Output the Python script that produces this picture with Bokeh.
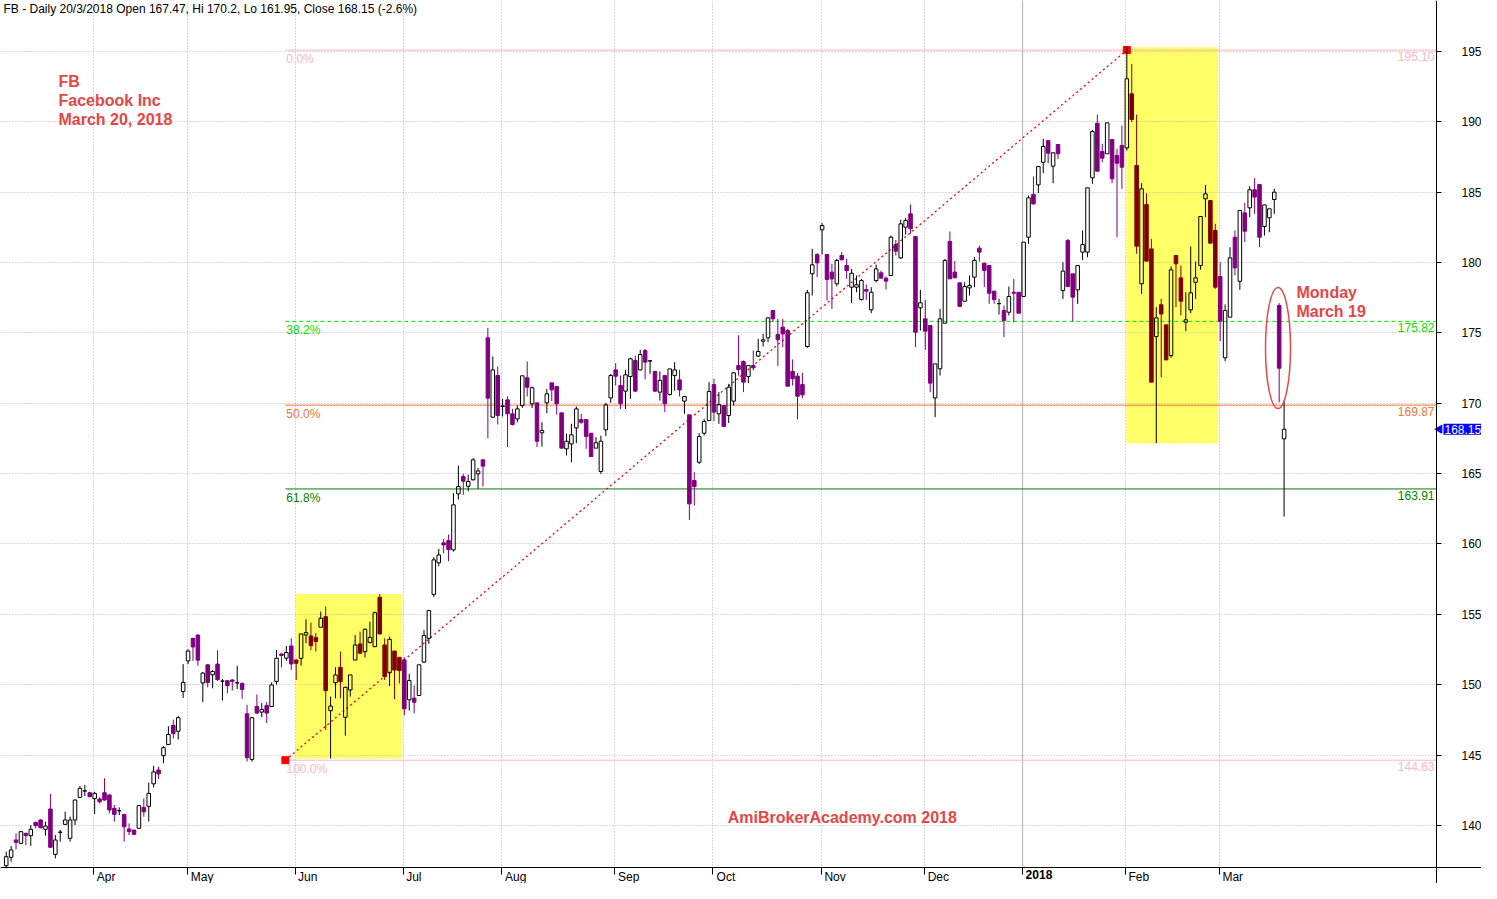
import json
import math
import pandas as pd
from bokeh.plotting import figure
from bokeh.models import (Range1d, FixedTicker, Label, Span, ColumnDataSource, Grid,
                          CustomJSTickFormatter, LinearAxis)
from bokeh.core.properties import value
from bokeh.embed import file_html
from bokeh.resources import INLINE

# ---------------- data (FB daily, 8 Mar 2017 .. 20 Mar 2018) ----------------
open_prices = [
    137.13, 137.73, 138.96, 138.72, 139.43, 139.27, 140.21, 140.38, 139.72, 141.16,
    137.94, 139.50, 140.07, 139.08, 140.38, 141.99, 142.44, 142.32, 141.90, 141.87,
    142.32, 142.16, 141.21, 141.04, 140.78, 139.74, 139.67, 139.79, 141.27, 141.35,
    142.95, 143.94, 144.95, 145.75, 147.11, 146.69, 149.51, 151.69, 153.29, 153.52,
    150.12, 151.41, 150.70, 151.46, 150.25, 150.28, 150.33, 150.12, 150.09, 147.93,
    144.69, 148.45, 148.05, 148.52, 148.45, 150.23, 152.18, 151.88, 152.75, 151.75,
    151.87, 153.53, 153.46, 153.34, 154.08, 154.83, 148.15, 150.14, 151.23, 147.68,
    149.62, 151.75, 152.89, 152.35, 152.99, 152.70, 156.21, 152.82, 150.85, 152.39,
    151.94, 151.76, 148.92, 149.04, 149.23, 151.60, 153.30, 156.41, 158.66, 160.08,
    160.24, 159.58, 163.56, 164.79, 164.10, 164.56, 164.98, 165.98, 174.65, 169.01,
    171.97, 169.77, 170.24, 169.25, 168.89, 169.84, 171.81, 169.96, 170.03, 167.90,
    170.03, 171.45, 171.19, 169.32, 166.76, 167.11, 168.25, 168.84, 168.84, 167.87,
    166.81, 165.15, 168.11, 170.38, 172.37, 171.26, 170.86, 171.90, 173.04, 172.37,
    173.75, 173.00, 172.26, 170.79, 171.97, 170.62, 171.97, 171.66, 170.15, 169.18,
    164.51, 165.81, 167.87, 168.77, 171.33, 169.25, 169.84, 169.13, 170.15, 172.68,
    172.97, 171.90, 172.68, 173.35, 174.41, 174.65, 176.59, 174.89, 175.41, 175.17,
    172.26, 171.93, 171.33, 174.03, 179.20, 180.57, 182.33, 180.57, 179.32, 178.49,
    180.50, 179.79, 178.25, 178.25, 177.37, 178.08, 176.64, 178.72, 179.27, 178.89,
    179.08, 181.28, 180.33, 182.51, 183.46, 181.85, 176.78, 176.00, 175.53, 170.38,
    172.45, 175.69, 181.50, 179.32, 178.56, 177.25, 178.20, 178.96, 181.02, 179.96,
    179.79, 177.97, 177.07, 176.59, 176.47, 177.89, 177.89, 177.59, 181.80, 184.83,
    185.52, 187.13, 188.67, 186.85, 188.39, 178.01, 181.57, 179.20, 178.06, 180.74,
    180.74, 186.02, 189.90, 187.89, 187.73, 188.74, 187.61, 188.32, 188.15, 191.99,
    186.90, 178.49, 184.12, 180.97, 174.74, 177.00, 175.57, 173.39, 180.50, 178.91,
    175.76, 176.64, 178.60, 179.79, 184.53, 184.41, 182.28, 179.01, 173.23, 176.12,
    181.80, 178.67, 183.53, 183.89, 185.17, 185.55, 182.56, 183.18, 184.48, 176.95,
    167.47,
]
high_prices = [
    138.13, 138.53, 139.43, 139.60, 139.48, 140.02, 140.26, 140.43, 140.26, 142.23,
    139.31, 139.67, 140.97, 140.62, 141.85, 142.80, 142.87, 142.39, 142.39, 141.99,
    143.34, 142.20, 141.45, 141.28, 140.81, 140.14, 139.67, 141.45, 141.91, 143.04,
    144.23, 144.18, 145.63, 147.04, 147.51, 147.78, 151.46, 152.51, 153.33, 153.60,
    150.90, 151.46, 151.03, 152.44, 150.40, 150.33, 150.40, 151.34, 150.16, 148.57,
    147.70, 149.30, 148.69, 148.76, 150.16, 152.46, 152.23, 152.75, 153.29, 151.80,
    153.62, 154.64, 154.41, 153.65, 155.19, 155.55, 149.15, 151.23, 152.35, 149.86,
    150.69, 153.53, 153.77, 154.00, 154.48, 155.19, 156.45, 153.29, 153.41, 152.39,
    151.94, 151.95, 150.77, 149.94, 151.41, 153.89, 155.32, 159.06, 159.65, 160.36,
    160.67, 163.61, 165.57, 164.98, 164.93, 166.10, 165.41, 165.98, 175.36, 173.32,
    172.61, 170.31, 170.48, 169.60, 169.84, 171.95, 172.97, 171.19, 170.03, 168.65,
    171.02, 171.45, 171.19, 169.32, 167.83, 168.54, 169.77, 169.25, 168.84, 167.87,
    167.59, 167.70, 170.03, 172.09, 172.85, 171.97, 172.37, 173.23, 173.39, 173.80,
    173.87, 173.05, 172.26, 172.26, 171.97, 172.44, 172.92, 172.37, 170.48, 169.18,
    165.10, 167.87, 168.89, 171.50, 171.74, 170.79, 169.84, 171.38, 172.21, 174.82,
    173.04, 172.68, 173.75, 174.58, 174.93, 176.12, 176.64, 176.00, 176.00, 175.29,
    173.11, 172.16, 172.16, 178.06, 180.98, 180.67, 182.80, 180.57, 179.91, 180.27,
    180.74, 180.27, 179.55, 179.08, 178.84, 178.44, 178.25, 179.86, 179.43, 179.01,
    181.92, 181.61, 183.04, 183.18, 184.13, 181.85, 178.06, 177.35, 175.53, 172.80,
    176.71, 180.26, 182.21, 180.10, 178.56, 178.60, 179.08, 180.38, 181.21, 179.96,
    179.79, 177.97, 177.42, 176.95, 178.30, 178.84, 177.89, 181.45, 184.76, 186.11,
    186.82, 188.79, 188.67, 187.80, 188.39, 180.02, 181.68, 179.20, 179.79, 182.28,
    185.31, 189.43, 190.52, 188.44, 189.93, 188.74, 188.08, 189.74, 195.31, 194.12,
    190.52, 185.64, 184.93, 181.68, 176.83, 177.42, 175.57, 179.72, 180.50, 179.79,
    177.89, 181.14, 180.07, 183.27, 185.52, 184.41, 182.75, 180.03, 177.02, 181.09,
    182.28, 183.70, 184.24, 185.43, 186.00, 185.55, 184.10, 183.82, 185.24, 177.11,
    170.20,
]
low_prices = [
    136.94, 137.42, 138.29, 138.67, 138.60, 138.55, 139.79, 139.79, 139.27, 138.41,
    137.65, 138.84, 140.02, 138.84, 140.02, 141.94, 142.09, 141.99, 140.81, 141.56,
    141.75, 140.85, 140.26, 140.73, 138.84, 139.31, 139.31, 139.79, 140.61, 140.27,
    142.69, 143.29, 144.41, 145.70, 146.17, 146.10, 149.06, 151.46, 151.69, 151.34,
    148.76, 149.81, 149.74, 150.28, 148.87, 149.39, 149.58, 149.69, 148.99, 144.53,
    144.53, 147.93, 147.70, 147.28, 148.40, 150.00, 151.22, 151.69, 151.04, 150.33,
    151.35, 152.94, 152.46, 152.35, 154.08, 146.78, 144.76, 149.03, 149.03, 146.37,
    149.15, 151.75, 152.23, 151.94, 152.94, 152.70, 153.60, 150.33, 149.90, 148.96,
    150.09, 147.81, 148.16, 147.97, 149.23, 151.53, 152.90, 156.22, 158.42, 159.34,
    158.77, 159.46, 163.16, 163.49, 163.75, 164.51, 163.92, 164.08, 167.52, 168.96,
    168.49, 169.06, 166.88, 168.42, 168.65, 169.67, 170.48, 169.67, 166.88, 166.92,
    169.29, 170.15, 169.20, 166.76, 166.29, 165.81, 167.16, 168.54, 166.76, 166.21,
    166.81, 164.98, 167.66, 170.03, 171.26, 169.60, 169.60, 170.31, 170.79, 172.33,
    171.69, 172.09, 170.80, 170.19, 169.37, 170.55, 170.90, 170.48, 169.25, 161.71,
    162.73, 165.69, 167.71, 168.77, 168.73, 168.54, 168.35, 168.59, 169.84, 171.97,
    170.79, 171.43, 172.33, 173.28, 174.03, 174.34, 175.76, 172.64, 173.99, 171.21,
    171.26, 168.85, 170.36, 173.94, 177.66, 178.96, 180.57, 177.30, 176.71, 178.30,
    180.19, 178.84, 177.11, 177.89, 177.30, 177.35, 176.40, 178.60, 178.89, 178.08,
    179.03, 180.50, 180.26, 181.99, 182.04, 173.99, 175.17, 173.80, 170.79, 169.01,
    171.97, 175.69, 178.84, 178.91, 176.88, 177.25, 177.66, 178.25, 180.07, 178.25,
    177.07, 177.07, 176.31, 174.70, 176.24, 175.76, 176.40, 177.59, 181.33, 184.12,
    184.93, 186.35, 187.06, 185.64, 187.37, 177.42, 178.25, 175.81, 177.06, 180.19,
    180.38, 185.59, 186.49, 187.13, 187.73, 185.64, 181.80, 185.24, 187.96, 189.98,
    180.62, 177.77, 180.10, 171.50, 167.16, 171.85, 173.08, 173.23, 176.83, 176.24,
    175.12, 176.40, 177.42, 179.50, 183.22, 181.38, 178.13, 174.41, 172.99, 176.12,
    179.08, 178.06, 181.45, 183.22, 183.46, 181.09, 181.92, 182.16, 183.46, 170.07,
    161.95,
]
close_prices = [
    137.77, 138.25, 138.79, 139.55, 139.27, 139.72, 139.98, 139.83, 139.95, 138.44,
    138.96, 139.52, 140.38, 140.38, 141.80, 142.63, 142.45, 142.04, 142.27, 141.68,
    141.80, 141.09, 140.78, 141.04, 139.90, 139.55, 139.36, 141.40, 140.96, 142.27,
    143.80, 143.66, 145.52, 146.46, 146.53, 147.65, 150.16, 152.39, 152.68, 151.74,
    150.82, 150.16, 150.94, 150.35, 150.25, 149.93, 150.23, 150.14, 149.65, 144.81,
    147.65, 147.98, 148.24, 147.98, 149.98, 151.88, 152.07, 152.28, 151.47, 151.52,
    153.60, 153.70, 152.77, 153.06, 154.72, 149.57, 148.48, 150.69, 150.21, 149.81,
    150.69, 152.82, 152.23, 153.93, 153.36, 155.12, 153.60, 150.57, 153.22, 151.04,
    151.00, 148.28, 150.29, 148.75, 151.41, 153.49, 155.27, 158.87, 159.22, 159.93,
    159.60, 162.78, 164.08, 164.46, 164.44, 165.98, 165.19, 165.53, 170.36, 172.37,
    169.13, 169.80, 169.25, 168.49, 169.60, 171.95, 171.14, 171.10, 167.30, 168.06,
    170.67, 170.95, 169.96, 166.81, 167.30, 167.76, 169.60, 168.65, 167.64, 166.21,
    167.19, 167.30, 169.89, 171.97, 171.92, 169.96, 172.02, 173.16, 170.86, 173.46,
    172.92, 173.02, 170.86, 171.62, 169.96, 172.44, 172.37, 170.95, 170.48, 162.85,
    164.08, 167.64, 168.70, 170.83, 169.37, 169.91, 168.35, 171.14, 172.16, 172.40,
    171.50, 172.68, 172.52, 173.68, 174.51, 176.07, 176.00, 174.51, 174.93, 171.21,
    171.74, 170.50, 170.60, 177.85, 179.84, 179.98, 182.63, 178.80, 178.84, 180.15,
    180.19, 179.43, 179.24, 178.42, 178.72, 177.97, 177.89, 179.55, 178.89, 178.68,
    181.80, 180.81, 182.75, 182.99, 182.40, 175.05, 177.14, 175.12, 171.43, 172.80,
    176.00, 180.15, 178.84, 178.91, 176.88, 178.30, 178.37, 180.15, 180.74, 179.43,
    177.82, 177.37, 177.09, 175.88, 177.59, 177.82, 176.40, 181.45, 184.60, 184.17,
    186.82, 188.25, 187.77, 187.80, 187.73, 179.39, 178.30, 177.54, 179.79, 181.28,
    185.31, 189.31, 186.49, 187.42, 189.93, 185.95, 187.06, 186.78, 193.06, 190.17,
    181.16, 185.24, 180.10, 171.50, 176.07, 176.35, 173.08, 179.48, 179.91, 177.25,
    175.93, 177.85, 178.91, 183.27, 184.88, 181.38, 178.25, 175.83, 176.59, 180.33,
    179.62, 183.70, 182.23, 185.17, 184.65, 181.80, 184.10, 183.82, 185.00, 172.49,
    168.15,
]
last_date = "2018-03-20"
nyse_holidays = ["2017-04-14", "2017-05-29", "2017-07-04", "2017-09-04", "2017-11-23",
                 "2017-12-25", "2018-01-01", "2018-01-15", "2018-02-19"]
highlight_months = [(2017, 6), (2018, 2)]
y_ticks = [140, 145, 150, 155, 160, 165, 170, 175, 180, 185, 190, 195]
fib_high, fib_low = 195.10, 144.63
fib_ratios = [0.0, 0.382, 0.5, 0.618, 1.0]
month_names = {1: "2018", 2: "Feb", 3: "Mar", 4: "Apr", 5: "May", 6: "Jun", 7: "Jul",
               8: "Aug", 9: "Sep", 10: "Oct", 11: "Nov", 12: "Dec"}
title_text = "FB - Daily 20/3/2018 Open 167.47, Hi 170.2, Lo 161.95, Close 168.15 (-2.6%)"

# ---------------- layout helpers (canvas pixels -> data) ----------------
FONT = "Liberation Sans"
RED_TXT = "#E64646"
PURPLE, MAROON = "#800080", "#800000"
GRID_COL = "#b4b4b4"
PXB = 4.915           # pixels per bar
PXY = 14.07           # pixels per price unit
FW, FH = 1481, 883
X0 = -5.7 / PXB
X1 = X0 + FW / PXB
YTOP = 195 + 51 / PXY
YBOT = YTOP - FH / PXY


def dx(px):
    return X0 + px / PXB


def dy(py):
    return YTOP - py / PXY


AXIS_X = dx(1436)
AXIS_Y = dy(867)

n = len(close_prices)
idx = list(range(n))
bd = pd.bdate_range("2017-01-02", last_date)
bd = bd[~bd.isin(pd.to_datetime(nyse_holidays))]
dates = bd[-n:]

month_starts = [k for k in range(1, n) if dates[k].month != dates[k - 1].month]
grid_pos = [m - 0.2 for m in month_starts]
in_hl = [(d.year, d.month) in highlight_months for d in dates]

p = figure(frame_width=FW, frame_height=FH,
           x_range=Range1d(X0, X1), y_range=Range1d(YBOT, YTOP),
           output_backend="svg", toolbar_location=None, y_axis_location="right",
           min_border_left=0, min_border_top=0, min_border_right=0, min_border_bottom=0)
p.outline_line_color = None
p.background_fill_color = "white"
p.border_fill_color = "white"

# yellow highlight boxes (month ranges)
for (yy, mm) in highlight_months:
    ks = [k for k in idx if dates[k].year == yy and dates[k].month == mm]
    top = max(high_prices[k] for k in ks)
    bot = min(low_prices[k] for k in ks)
    p.quad(left=[ks[0] - 0.1], right=[ks[-1] + 0.6], bottom=[bot], top=[top],
           fill_color="#FFFF66", line_color=None, level="image")

# grid
p.ygrid.visible = False
p.xgrid.visible = False
p.add_layout(Grid(dimension=1, ticker=FixedTicker(ticks=y_ticks),
                  grid_line_color=GRID_COL, grid_line_dash="1 2"))
p.add_layout(Grid(dimension=0, ticker=FixedTicker(ticks=grid_pos),
                  grid_line_color=GRID_COL, grid_line_dash="1 2"))
for m in month_starts:
    if dates[m].month == 1:
        p.add_layout(Span(location=m - 0.2, dimension="height", line_color="#b4b4b4",
                          line_width=1, level="underlay"))
# blank margins outside the price pane (right of price axis, below time axis)
p.quad(left=[dx(1446)], right=[X1], bottom=[YBOT], top=[YTOP], fill_color="white", line_color=None)
p.quad(left=[X0], right=[X1], bottom=[YBOT], top=[AXIS_Y], fill_color="white", line_color=None)

# fibonacci
fib_x0, fib_x1 = 56.8, 228
fib_levels = [fib_high - r * (fib_high - fib_low) + 1e-9 for r in fib_ratios]
fib_colors = ["#FFB6C1", "#00E000", "#F4743B", "#008000", "#FFB6C1"]
fib_dash = ["solid", "4 3", "solid", "solid", "solid"]
for r, lv, col, ds in zip(fib_ratios, fib_levels, fib_colors, fib_dash):
    p.segment(x0=[fib_x0], y0=[lv], x1=[AXIS_X], y1=[lv], line_color=col, line_width=1, line_dash=ds)
    p.text(x=[fib_x0], y=[lv], text=[f"{r * 100:.1f}%"], x_offset=1, y_offset=2,
           text_baseline="top", text_align="left", text_color=col,
           text_font=value(FONT), text_font_size="12px")
    p.text(x=[AXIS_X], y=[lv], text=[f"{lv:.2f}"], x_offset=-2, y_offset=2,
           text_baseline="top", text_align="right", text_color=col,
           text_font=value(FONT), text_font_size="12px")
p.line(x=[fib_x0, fib_x1], y=[fib_low, fib_high], line_color="red", line_dash="2 3", line_width=1.3)
p.scatter(x=[fib_x0, fib_x1], y=[fib_low, fib_high], marker="square", size=7,
          fill_color="red", line_color="red")

# candles
is_up = [c >= o for o, c in zip(open_prices, close_prices)]
body_top = [max(o, c) for o, c in zip(open_prices, close_prices)]
body_bot = [min(o, c) for o, c in zip(open_prices, close_prices)]
down_col = [MAROON if in_hl[k] else PURPLE for k in idx]
wick_col = ["black" if is_up[k] else down_col[k] for k in idx]
src = ColumnDataSource(dict(x=idx, top=body_top, bot=body_bot, high=high_prices,
                            low=low_prices, wc=wick_col))
p.segment(x0="x", y0="top", x1="x", y1="high", line_color="wc", line_width=1, source=src)
p.segment(x0="x", y0="low", x1="x", y1="bot", line_color="wc", line_width=1, source=src)
up_k = [k for k in idx if is_up[k]]
dn_k = [k for k in idx if not is_up[k]]
up_src = ColumnDataSource(dict(x=up_k, top=[body_top[k] for k in up_k], bot=[body_bot[k] for k in up_k]))
dn_src = ColumnDataSource(dict(x=dn_k, top=[body_top[k] for k in dn_k], bot=[body_bot[k] for k in dn_k],
                               fc=[down_col[k] for k in dn_k]))
p.vbar(x="x", width=0.72, top="top", bottom="bot", fill_color=None, line_color="black",
       line_width=1, source=up_src)
p.vbar(x="x", width=0.72, top="top", bottom="bot", fill_color="fc", line_color="fc",
       line_width=1, source=dn_src)

# red ellipse around Monday March 19
p.ellipse(x=[dx(1277.5)], y=[dy(347.5)], width=25 / PXB, height=121 / PXY,
          fill_color=None, line_color="#E84848", line_width=1.5)

# x axis (month labels just right of each month start), fixed at the pane bottom
label_w = {"Apr": 19, "May": 24, "Jun": 19, "Jul": 15, "Aug": 22, "Sep": 22, "Oct": 20,
           "Nov": 22, "Dec": 22, "2018": 28, "Feb": 20, "Mar": 21}
label_pos = []
label_map = {}
bold_labels = []
for m in month_starts:
    name = month_names[dates[m].month]
    pos = round(m - 0.2 + (3 + label_w[name] / 2) / PXB, 2)
    label_pos.append(pos)
    if dates[m].month == 1:
        bold_labels.append((m - 0.2, name))
        label_map[f"{pos:.2f}"] = ""
    else:
        label_map[f"{pos:.2f}"] = name
p.xaxis.ticker = FixedTicker(ticks=label_pos)
p.xaxis.formatter = CustomJSTickFormatter(
    code="const L = " + json.dumps(label_map) + "; const k = tick.toFixed(2); return (k in L) ? L[k] : '';")
p.xaxis.fixed_location = AXIS_Y
p.xaxis.major_tick_line_color = None
p.xaxis.major_tick_out = 0
p.xaxis.major_tick_in = 0
p.xaxis.minor_tick_line_color = None
p.xaxis.major_label_standoff = 2
p.xaxis.axis_line_color = "black"
p.xaxis.major_label_text_font = FONT
p.xaxis.major_label_text_font_size = "12px"
p.xaxis.major_label_text_color = "black"

tick_axis = LinearAxis(ticker=FixedTicker(ticks=grid_pos), fixed_location=AXIS_Y,
                       formatter=CustomJSTickFormatter(code="return '';"),
                       axis_line_color=None, major_tick_out=7, major_tick_in=0,
                       major_tick_line_color="black", minor_tick_line_color=None)
p.add_layout(tick_axis, "below")

# y axis on the right, fixed at the pane's right edge
p.yaxis.ticker = FixedTicker(ticks=y_ticks)
p.yaxis.fixed_location = AXIS_X
p.yaxis.axis_line_color = "black"
p.yaxis.major_tick_out = 5
p.yaxis.major_tick_in = 0
p.yaxis.major_tick_line_color = "black"
p.yaxis.minor_tick_line_color = None
p.yaxis.major_label_standoff = 20
p.yaxis.major_label_text_font = FONT
p.yaxis.major_label_text_font_size = "12px"
p.yaxis.major_label_text_color = "black"

# last-close tag on the price axis
last_close = close_prices[-1]
p.scatter(x=[dx(1439)], y=[last_close], marker="triangle", angle=math.pi / 2, size=8,
          fill_color="#0000FF", line_color="#0000FF")
tag_kw = dict(x=dx(1443), y=last_close, text=f"{last_close:.2f}", text_baseline="middle",
              text_align="left", text_font=FONT, text_font_size="12px",
              text_color="white", background_fill_color="#0000FF", background_fill_alpha=1.0)
if "padding" in Label.properties():
    tag_kw["padding"] = 1
p.add_layout(Label(**tag_kw))

# texts
for xm, name in bold_labels:
    p.add_layout(Label(x=xm + 3 / PXB, y=AXIS_Y, y_offset=-2, text=name, text_baseline="top",
                       text_align="left", text_font=FONT, text_font_size="12px",
                       text_font_style="bold", text_color="black"))
p.add_layout(Label(x=dx(3), y=dy(1), text=title_text, text_baseline="top", text_align="left",
                   text_font=FONT, text_font_size="12px", text_color="black"))
for t, yy in [("FB", 81), ("Facebook Inc", 100), ("March 20, 2018", 119)]:
    p.add_layout(Label(x=dx(58), y=dy(yy), text=t, text_baseline="middle", text_align="left",
                       text_font=FONT, text_font_size="16px", text_font_style="bold",
                       text_color=RED_TXT))
for t, yy in [("Monday", 292), ("March 19", 311)]:
    p.add_layout(Label(x=dx(1296), y=dy(yy), text=t, text_baseline="middle", text_align="left",
                       text_font=FONT, text_font_size="16px", text_font_style="bold",
                       text_color=RED_TXT))
p.add_layout(Label(x=dx(844), y=dy(817), text="AmiBrokerAcademy.com  2018", text_baseline="middle",
                   text_align="center", text_font=FONT, text_font_size="16px",
                   text_font_style="bold", text_color=RED_TXT))

open("out.html", "w").write(file_html(p, INLINE))
